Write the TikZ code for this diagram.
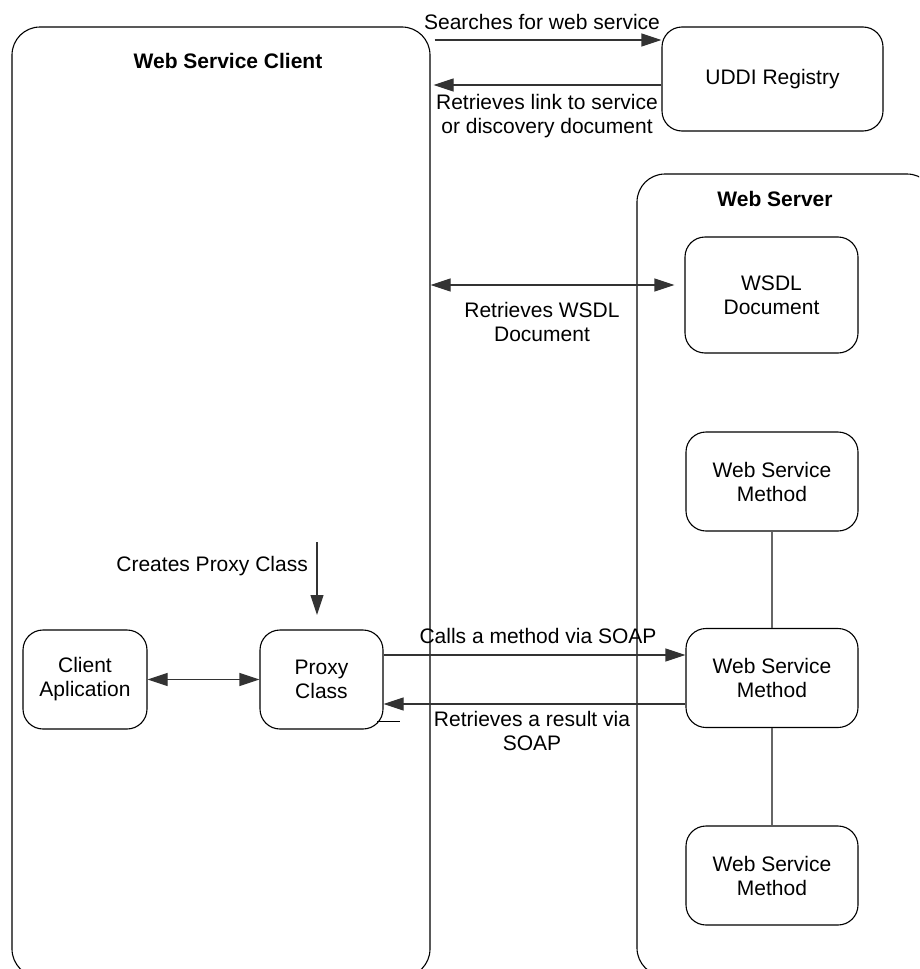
\documentclass[tikz,border=0pt]{standalone}
\usepackage{fontspec}
\setmainfont{Liberation Sans}
\usetikzlibrary{arrows.meta}
\begin{document}
\begin{tikzpicture}[x=1pt,y=-1pt,
  every node/.style={font=\fontsize{21}{24}\selectfont, inner sep=0pt, align=center},
  container/.style={draw=black, line width=1.1pt, rounded corners=28pt},
  box/.style={draw=black, line width=1.1pt, rounded corners=20pt, minimum width=172pt, minimum height=99pt},
  lbl/.style={},
  ttl/.style={font=\fontsize{21}{24}\selectfont\bfseries},
  arr/.style={draw=black!80, line width=1.1pt, -{Triangle[length=20pt,width=13pt]}},
  darr/.style={draw=black!80, line width=1.1pt, {Triangle[length=20pt,width=13pt]}-{Triangle[length=20pt,width=13pt]}},
  link/.style={draw=black!60, line width=1.1pt}
]
\useasboundingbox (0,0) rectangle (919,969);
\clip (0,0) rectangle (919,969);
\fill[white] (0,0) rectangle (919,969);

% containers
\node[container, minimum width=418pt, minimum height=950pt] (client) at (221,502) {};
\node[ttl] (clientttl) at (228,61) {Web Service Client};
\node[container, minimum width=298pt, minimum height=802pt] (server) at (786,575) {};
\node[ttl] (serverttl) at (775,199) {Web Server};

% nodes
\node[box, minimum width=221pt, minimum height=104pt] (uddi) at (772.5,79) {UDDI Registry};
\node[box, minimum width=173pt, minimum height=116pt] (wsdl) at (771.5,295) {WSDL\\Document};
\node[box] (m1) at (772,481.5) {Web Service\\Method};
\node[box] (m2) at (772,678) {Web Service\\Method};
\node[box] (m3) at (772,875.5) {Web Service\\Method};
\node[box, minimum width=124pt] (capp) at (85,679.5) {Client\\Aplication};
\node[box, minimum width=123pt] (proxy) at (321.5,679.5) {Proxy\\Class};

% UDDI arrows
\draw[arr] ([xshift=4pt]client.east |- 0,40) -- (uddi.west |- 0,40);
\node[lbl] (l1) at (542,22) {Searches for web service};
\draw[arr] (uddi.west |- 0,85) -- ([xshift=3pt]client.east |- 0,85);
\node[lbl] (l2) at (547,116) {Retrieves link to service\\or discovery document};

% WSDL
\draw[darr] (client.east |- 0,285) -- ([xshift=-10pt]wsdl.west |- 0,285);
\node[lbl] (l3) at (542,322) {Retrieves WSDL\\Document};

% method links
\draw[link] (m1.south) -- (m2.north);
\draw[link] (m2.south) -- (m3.north);

% proxy creation
\coordinate (cp1) at (317,542);
\coordinate (cp2) at (317,615);
\draw[arr] (cp1) -- (cp2);
\node[lbl, anchor=east] (l4) at (308,566) {Creates Proxy Class};

% client <-> proxy
\draw[darr] (capp.east) -- (proxy.west);

% SOAP
\draw[arr] (proxy.east |- 0,655) -- (m2.west |- 0,655);
\node[lbl] (l5) at (538,636) {Calls a method via SOAP};
\draw[arr] (m2.west |- 0,704) -- (proxy.east |- 0,704);
\node[lbl] (l6) at (532,731) {Retrieves a result via\\SOAP};
\coordinate (s1) at (377,721);
\coordinate (s2) at (400,721);
\draw[line width=1pt] (s1) -- (s2);
\end{tikzpicture}
\end{document}
